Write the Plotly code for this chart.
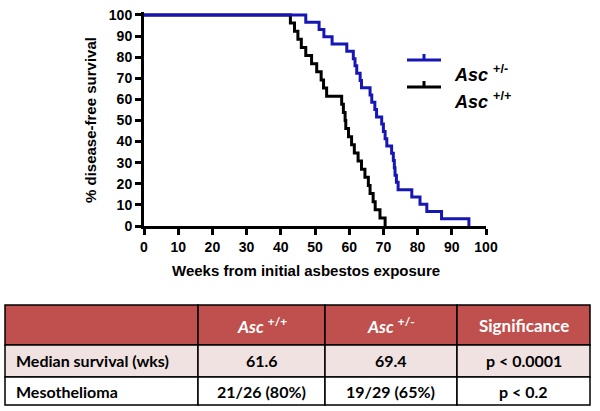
import plotly.graph_objects as go

# Kaplan-Meier steps: Asc +/+ (black)
wt_weeks = [0, 42.8, 44.0, 45.0, 46.0, 47.3, 49.0, 50.5, 51.8, 52.5, 53.4,
            57.8, 58.3, 58.8, 59.0, 59.8, 60.7, 61.5, 62.6, 63.6, 64.6,
            65.6, 66.1, 67.0, 67.6, 69.0, 70.5]
wt_surv = [100, 96.2, 92.3, 88.5, 84.6, 80.8, 76.9, 73.1, 69.2, 65.4, 61.5,
           57.7, 53.8, 50.0, 46.2, 42.3, 38.5, 34.6, 30.8, 26.9, 23.1,
           19.2, 15.4, 11.5, 7.7, 3.8, 0]

# Asc +/- (blue)
het_weeks = [0, 47.3, 51.2, 52.6, 55.0, 59.3, 61.2, 61.7, 62.2, 63.2, 63.6,
             66.1, 66.6, 67.5, 68.0, 69.5, 70.0, 70.5, 71.0, 72.4, 72.9,
             73.2, 73.4, 73.8, 74.3, 78.3, 80.7, 82.7, 87.0, 95.0]
het_surv = [100, 96.6, 93.1, 89.7, 86.2, 82.8, 79.3, 75.9, 72.4, 69.0, 65.5,
            62.1, 58.6, 55.2, 51.7, 48.3, 44.8, 41.4, 37.9, 34.5, 31.0,
            27.6, 24.1, 20.7, 17.2, 13.8, 10.3, 6.9, 3.4, 0]

x_ticks = list(range(0, 101, 10))
y_ticks = list(range(0, 101, 10))

# table contents
col_headers = ["", "<i>Asc</i> <sup>+/+</sup>", "<i>Asc</i> <sup>+/-</sup>", "Significance"]
row_labels = ["Median survival (wks)", "Mesothelioma"]
wt_col = ["61.6", "21/26 (80%)"]
het_col = ["69.4", "19/29 (65%)"]
sig_col = ["p < 0.0001", "p < 0.2"]

BLUE = "#1616B4"
BLACK = "#000000"
FONT = "Liberation Sans, Arial"
W, H = 600, 411

fig = go.Figure()

fig.add_trace(go.Scatter(x=wt_weeks, y=wt_surv, mode="lines", line_shape="hv",
                         line=dict(color=BLACK, width=3), showlegend=False,
                         hoverinfo="skip"))
fig.add_trace(go.Scatter(x=het_weeks, y=het_surv, mode="lines", line_shape="hv",
                         line=dict(color=BLUE, width=3), showlegend=False,
                         hoverinfo="skip"))

axis_common = dict(showline=True, linewidth=3, linecolor="black", ticks="outside",
                   ticklen=6, tickwidth=3, tickcolor="black", showgrid=False,
                   zeroline=False, automargin=False,
                   tickfont=dict(family=FONT, size=14, color="black", weight="bold"))

fig.update_layout(
    width=W, height=H,
    margin=dict(l=0, r=0, t=0, b=0, autoexpand=False),
    paper_bgcolor="white", plot_bgcolor="white",
    xaxis=dict(domain=[144 / W, 486 / W], range=[0, 100], tickvals=x_ticks,
               **axis_common),
    yaxis=dict(domain=[1 - 226 / H, 1 - 11.8 / H], range=[0, 101.5],
               tickvals=y_ticks, **axis_common),
)

# axis titles
fig.add_annotation(x=0.51, y=1 - 270 / H, xref="paper", yref="paper",
                   text="<b>Weeks from initial asbestos exposure</b>", showarrow=False,
                   xanchor="center", font=dict(family=FONT, size=15, color="black"))
fig.add_annotation(x=91 / W, y=1 - 120 / H, xref="paper", yref="paper",
                   text="<b>% disease-free survival</b>", showarrow=False, textangle=-90,
                   xanchor="center", yanchor="middle",
                   font=dict(family=FONT, size=15, color="black"))

# legend drawn by hand: line with a small tick, then label
legend_items = [("<b><i>Asc</i> <sup>+/-</sup></b>", BLUE, 60),
                ("<b><i>Asc</i> <sup>+/+</sup></b>", BLACK, 87)]
for label, color, ypix in legend_items:
    yp = 1 - ypix / H
    fig.add_shape(type="line", xref="paper", yref="paper", x0=407 / W, x1=441 / W,
                  y0=yp, y1=yp, line=dict(color=color, width=3))
    fig.add_shape(type="line", xref="paper", yref="paper", x0=424 / W, x1=424 / W,
                  y0=yp, y1=yp + 6 / H, line=dict(color=color, width=3))
    fig.add_annotation(x=452 / W, y=yp, xref="paper", yref="paper", text=label,
                       showarrow=False, xanchor="left",
                       font=dict(family=FONT, size=18, color="black"))

# summary table below the plot, drawn as cells (pixel edges of the grid)
col_edges = [5, 198, 325, 457, 590]
row_edges = [305, 345, 377, 405]
row_fills = ["#C0504D", "#F0E2E1", "#FFFFFF"]
table_rows = [col_headers] + [list(r) for r in zip(row_labels, wt_col, het_col, sig_col)]

for r, row in enumerate(table_rows):
    y0, y1 = 1 - row_edges[r + 1] / H, 1 - row_edges[r] / H
    for c, txt in enumerate(row):
        x0, x1 = col_edges[c] / W, col_edges[c + 1] / W
        fig.add_shape(type="rect", xref="paper", yref="paper", x0=x0, x1=x1, y0=y0, y1=y1,
                      fillcolor=row_fills[r], line=dict(color="black", width=1.5),
                      layer="below")
        if not txt:
            continue
        if r > 0 and c == 0:
            tx, anchor = (col_edges[c] + 9) / W, "left"
        else:
            tx, anchor = (x0 + x1) / 2, "center"
        fig.add_annotation(x=tx, y=(y0 + y1) / 2, xref="paper", yref="paper",
                           text="<b>%s</b>" % txt, showarrow=False, xanchor=anchor,
                           yanchor="middle",
                           font=dict(family="Lato", size=17 if r == 0 else 16,
                                     color="white" if r == 0 else "black"))

# drop the default page margin so the 600x411 figure fills the window exactly
fig.write_html("out.html", config={"displayModeBar": False},
               post_script="document.body.style.margin='0';")
